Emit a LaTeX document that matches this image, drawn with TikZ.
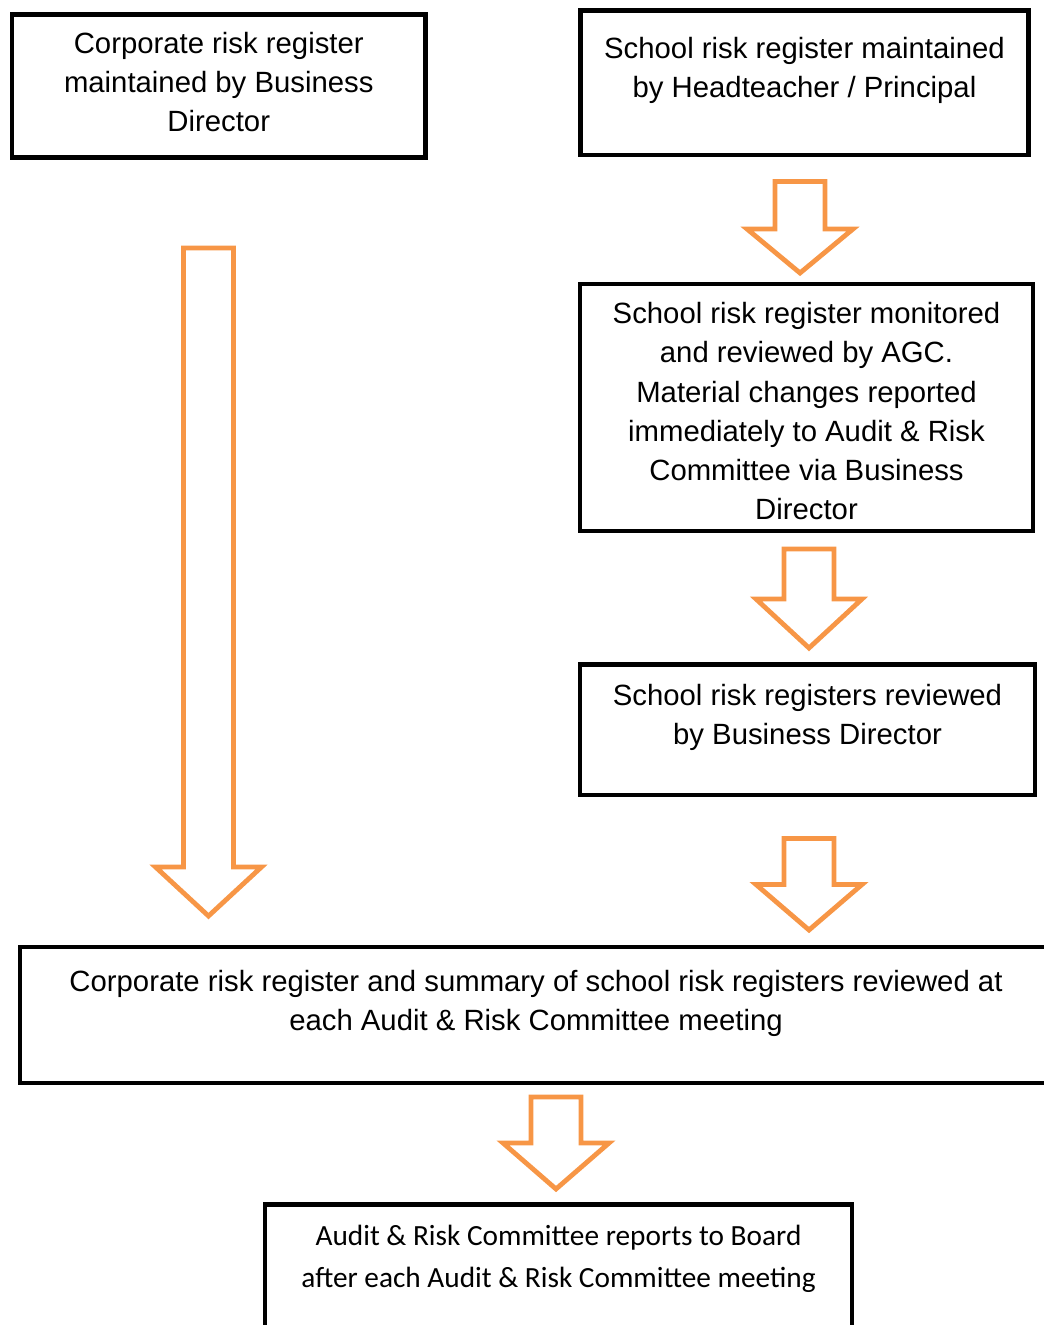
\documentclass[tikz,border=0pt]{standalone}
\usepackage{fontspec}
\setmainfont{Liberation Sans}
\newfontfamily\boardfont{Carlito}
\usepackage{xcolor}
\usetikzlibrary{positioning}
\definecolor{accentorange}{HTML}{F79646}

% hollow block arrow pointing down: centre x, top, neck, tip
\newcommand{\downblock}[4]{%
  \draw[hollow] (#1-25,#2) -- (#1+25,#2) -- (#1+25,#3) -- (#1+53,#3)
    -- (#1,#4) -- (#1-53,#3) -- (#1-25,#3) -- cycle;}

\begin{document}
\begin{tikzpicture}[x=0.5pt, y=-0.5pt]
\tikzstyle{regbox}=[draw, line width=2.4pt, inner sep=0pt]
\tikzstyle{regtext}=[
    align=center, inner sep=0pt, anchor=base,
    font=\fontsize{14.65}{19.5}\selectfont
]
\tikzstyle{hollow}=[draw=accentorange, line width=2.4pt, line join=miter]

\useasboundingbox (0,0) rectangle (1043,1325);

% the two registers (text placed by its last baseline)
\node[regbox, minimum width=206.75pt, minimum height=71.5pt] (corp) at (218.75,86) {};
\node[regtext] (corptxt) at (218.75,132) {Corporate risk register\\maintained by Business\\Director};

\node[regbox, minimum width=224pt, minimum height=72.25pt] (school) at (804.5,82.75) {};
\node[regtext] (schooltxt) at (804.5,98) {School risk register maintained\\by Headteacher / Principal};

\node[regbox, minimum width=226.5pt, minimum height=123.5pt] (agc) at (806.5,407.5) {};
\node[regtext] (agctxt) at (806.5,519) {School risk register monitored\\and reviewed by AGC.\\Material changes reported\\immediately to Audit \& Risk\\Committee via Business\\Director};

\node[regbox, minimum width=227.5pt, minimum height=65.25pt] (bd) at (807.5,729.75) {};
\node[regtext] (bdtxt) at (807.5,744) {School risk registers reviewed\\by Business Director};

% committee and board
\node[regbox, minimum width=525pt, minimum height=68pt] (arc) at (545,1015) {};
\node[regtext] (arctxt) at (536,1030) {Corporate risk register and summary of school risk registers reviewed at\\each Audit \& Risk Committee meeting};

\node[regbox, minimum width=293.5pt, minimum height=70.25pt] (board) at (558.5,1274.75) {};
\node[regtext, font=\boardfont\fontsize{14.65}{21}\selectfont] (boardtxt) at (558.5,1287) {Audit \& Risk Committee reports to Board\\after each Audit \& Risk Committee meeting};

% block arrows
\downblock{800}{181.5}{229}{273}
\downblock{809}{549}{599}{648}
\downblock{809}{838.5}{884.5}{930}
\downblock{208.5}{248}{867}{916}
\downblock{556}{1097}{1143}{1189}
\end{tikzpicture}
\end{document}
